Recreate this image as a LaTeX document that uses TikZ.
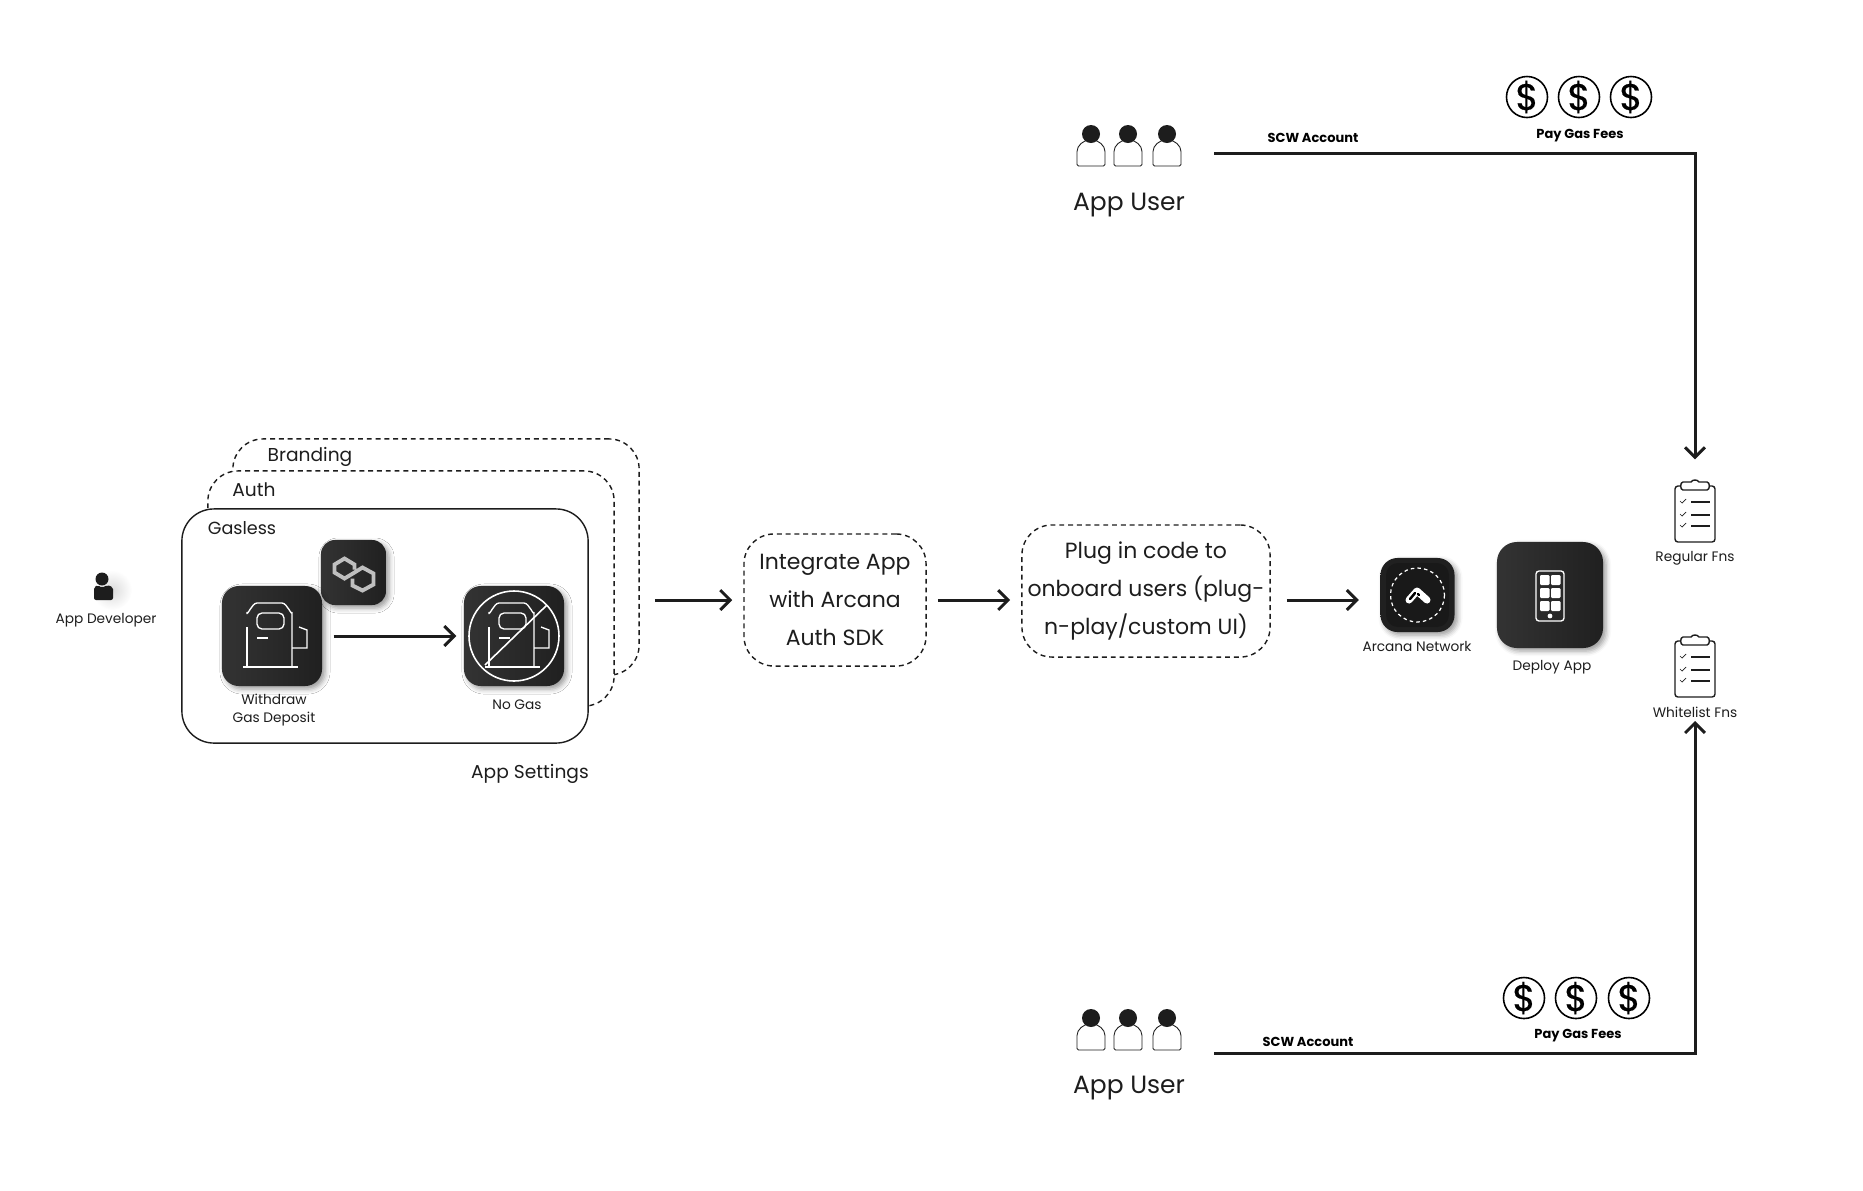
\documentclass[tikz,border=0pt]{standalone}
\usepackage{fontspec}
\setmainfont{Poppins}
\newfontfamily\coinfont[FakeBold=0.6]{Poppins}
\usetikzlibrary{arrows.meta,shadows.blur}
\definecolor{inkblack}{HTML}{1D1D1D}
\definecolor{tilelight}{HTML}{333333}
\definecolor{tiledark}{HTML}{202020}
\tikzset{
  bigtext/.style={text=inkblack, align=center, font=\fontsize{6.25}{10.8}\selectfont},
  midtext/.style={text=inkblack, inner sep=0pt, font=\fontsize{5.3}{7}\selectfont},
  usertext/.style={text=inkblack, inner sep=0pt, font=\fontsize{7.1}{9}\selectfont},
  smalltext/.style={text=inkblack, align=center, inner sep=0pt, font=\fontsize{3.9}{5}\selectfont},
  boldtext/.style={text=black, inner sep=0pt, font=\fontsize{3.7}{5}\selectfont\bfseries},
  flow/.style={draw=inkblack, line width=0.85pt, -{Straight Barb[length=2.8pt,width=5.6pt]}},
  dashbox/.style={draw=inkblack, fill=white, line width=0.4pt, dash pattern=on 1.4pt off 1.1pt, rounded corners=0.3cm, inner sep=0pt},
  tile/.style={rounded corners=0.17cm, left color=tilelight, right color=tiledark, inner sep=0pt,
    blur shadow={shadow xshift=0.03cm, shadow yshift=-0.03cm, shadow blur radius=0.05cm, shadow opacity=40}},
  iconline/.style={draw=white, line width=0.38pt},
  coin/.style={circle, draw=black, line width=0.45pt, minimum size=0.41cm, inner sep=-3pt, text=black, font=\fontsize{10.5}{10.5}\coinfont},
  clipboard/.style={draw=inkblack, fill=white, line width=0.4pt, rounded corners=0.03cm, minimum width=0.4cm, minimum height=0.56cm, inner sep=0pt},
}
\begin{document}
\begin{tikzpicture}[x=0.01cm, y=-0.01cm]
    \useasboundingbox (0,0) rectangle (1863,1190);

    % app developer
    \shade[inner color=black!14, outer color=white] (112,590) circle (20);
    \fill[inkblack] (102,579) circle (6.5);
    \fill[inkblack, rounded corners=0.02cm] (94,600) -- (94,587) -- (98,585) -- (102,588) -- (107,585) -- (113,587) -- (113,600) -- cycle;
    \node[smalltext] (developer) at (106,620) {App Developer};

    % app settings cards
    \node[dashbox, minimum width=4.06cm, minimum height=2.36cm] (branding) at (436,557) {};
    \node[dashbox, minimum width=4.06cm, minimum height=2.35cm] (auth) at (411,588.5) {};
    \node[dashbox, solid, rounded corners=0.32cm, minimum width=4.06cm, minimum height=2.34cm] (gasless) at (385,626) {};
    \node[midtext] (brandinglabel) at (310,457) {Branding};
    \node[midtext] (authlabel) at (254,490) {Auth};
    \node[midtext, font=\fontsize{5}{7}\selectfont] (gaslesslabel) at (242,528) {Gasless};
    \node[midtext] (settingslabel) at (530,774) {App Settings};

    % tiles in the card
    \node[tile, minimum size=0.65cm, rounded corners=0.14cm] (polygon) at (353.5,572.5) {};
    \node[tile, minimum size=1cm] (withdraw) at (272,636) {};
    \node[tile, minimum size=1cm] (nogas) at (514,636) {};
    \node[smalltext] (withdrawlabel) at (274,710) {Withdraw\\Gas Deposit};
    \node[smalltext] (nogaslabel) at (517,705) {No Gas};

    % polygon mark
    \draw[draw=black!25, line width=1.1pt, shift={(polygon.center)}]
      (1,-3) -- (1,-8) -- (-9,-14) -- (-19,-8) -- (-19,0) -- (-9,6) -- (1,0) -- (9,-5) -- (20,1) -- (20,12) -- (9,18) -- (-1,13) -- (-1,6);

    % fuel pump on both tiles
    \foreach \pump in {withdraw,nogas} {
      \begin{scope}[shift={(\pump.center)}]
        \draw[iconline] (-25,-22) -- (-25,-24) to[out=-90,in=180] (-15,-33) -- (10,-33) to[out=0,in=-90] (20,-24) -- (20,31);
        \draw[iconline] (-25,-9) -- (-25,31);
        \draw[iconline] (-29,31) -- (26,31);
        \draw[iconline, rounded corners=0.05cm] (-15,-23) rectangle (12,-7);
        \draw[iconline] (-15,2) -- (-4,2);
        \draw[iconline] (20,12) -- (35,12) -- (35,-6) -- (27,-9);
      \end{scope}
    }
    \draw[iconline, line width=0.45pt] (nogas.center) circle (45);
    \draw[iconline, line width=0.45pt, shift={(nogas.center)}] (33,-31) -- (-29,29);

    % integrate and plug in steps
    \node[dashbox, bigtext, minimum width=1.82cm, minimum height=1.32cm] (integrate) at (835,600) {Integrate App\\with Arcana\\Auth SDK};
    \node[dashbox, bigtext, minimum width=2.48cm, minimum height=1.32cm] (plug) at (1146,591) {Plug in code to\\onboard users (plug-\\n-play/custom UI)};

    % arcana network
    \node[tile, minimum size=0.74cm, rounded corners=0.17cm, left color=tiledark, right color=tiledark] (arcana) at (1417.5,595) {};
    \fill[black!90, rounded corners=0.12cm] (1386,563) rectangle (1449,627);
    \draw[draw=white, line width=0.35pt, dash pattern=on 1pt off 0.9pt] (arcana.center) circle (27);
    \draw[draw=white, line width=2pt, line cap=round] (1417,591) -- (1409,600) (1417,591) -- (1427,600);
    \draw[draw=black, line width=0.7pt, line cap=round] (1415,593) -- (1410,599) (1418,594) -- (1419,595);
    \node[smalltext] (arcanalabel) at (1417,646) {Arcana Network};

    % deploy app
    \node[tile, minimum size=1.06cm, rounded corners=0.2cm] (deploy) at (1550,595) {};
    \draw[iconline, rounded corners=0.03cm] (1536,571) rectangle (1564,621);
    \foreach \col in {1540,1551} {
      \foreach \row in {575,588,601} {
        \fill[white, rounded corners=0.012cm] (\col,\row) rectangle ++(9.5,10);
      }
    }
    \fill[white] (1550,616) circle (2.4);
    \node[smalltext] (deploylabel) at (1552,667) {Deploy App};

    % function lists
    \node[clipboard] (regular) at (1695,514) {};
    \node[clipboard] (whitelist) at (1695,669) {};
    \foreach \sheet in {regular,whitelist} {
      \begin{scope}[shift={(\sheet.center)}]
        \draw[inkblack, line width=0.4pt, fill=white] (-12,-32) to[out=180,in=180] (-12,-24) -- (12,-24) to[out=0,in=0] (12,-32) -- (4,-32) to[out=120,in=60] (-4,-32) -- cycle;
        \foreach \tick in {-12,1,12} {
          \draw[inkblack, line width=0.65pt] (-4,\tick) -- (15,\tick);
          \draw[inkblack, line width=0.2pt] (-15,\tick-1) -- (-13,\tick+1) -- (-9,\tick-3);
        }
      \end{scope}
    }
    \node[smalltext] (regularlabel) at (1695,558) {Regular Fns};
    \node[smalltext] (whitelistlabel) at (1695,712) {Whitelist Fns};

    % app users, top and bottom
    \foreach \uy in {134,1018} {
      \foreach \ux in {1091,1128,1167} {
        \draw[inkblack, line width=0.25pt, rounded corners=0.015cm] (\ux-14,\uy+32) -- (\ux-14,\uy+19) to[out=90,in=180] (\ux,\uy+6) to[out=0,in=90] (\ux+14,\uy+19) -- (\ux+14,\uy+32) -- cycle;
        \fill[inkblack] (\ux,\uy) circle (9);
      }
    }
    \node[usertext] (topuser) at (1129,205) {App User};
    \node[usertext] (bottomuser) at (1129,1088) {App User};

    % gas coins
    \foreach \name/\cx in {a/1527,b/1579,c/1631} {
      \node[coin] (topcoin\name) at (\cx,97) {\$};
    }
    \foreach \name/\cx in {a/1524,b/1576,c/1629} {
      \node[coin] (bottomcoin\name) at (\cx,998) {\$};
    }
    \node[boldtext] (topfees) at (1580,136) {Pay Gas Fees};
    \node[boldtext] (bottomfees) at (1578,1036) {Pay Gas Fees};
    \node[boldtext] (topscw) at (1313,138) {SCW Account};
    \node[boldtext] (bottomscw) at (1308,1042) {SCW Account};

    % connectors
    \coordinate (topstart) at (1214,153);
    \coordinate (bottomstart) at (1214,1053);
    \draw[flow, shorten <=0.15cm, shorten >=0.11cm] (branding.east |- integrate.west) -- (integrate.west);
    \draw[flow, shorten <=0.11cm, shorten >=0.11cm] (integrate.east) -- (plug.west |- integrate.east);
    \draw[flow, shorten <=0.16cm, shorten >=0.21cm] (plug.east |- integrate.east) -- (arcana.west |- integrate.east);
    \draw[flow, shorten <=0.11cm, shorten >=0.07cm] (withdraw.east) -- (nogas.west);
    \draw[flow, shorten >=0.26cm] (topstart) -| (regular.north);
    \draw[flow, shorten >=0.03cm] (bottomstart) -| (whitelistlabel.south -| regular.north);
  \end{tikzpicture}
\end{document}
